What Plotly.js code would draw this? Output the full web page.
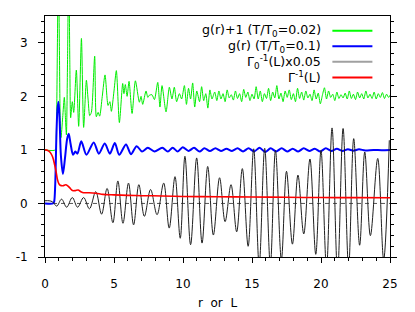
<!DOCTYPE html>
<html><head><meta charset="utf-8">
<script src="https://cdn.plot.ly/plotly-3.0.1.min.js"></script>
<style>html,body{margin:0;padding:0;background:#fff}#c{width:415px;height:312px}</style>
</head><body><div id="c"></div>
<script>
// g(r)+1 at T/T0=0.02 (green)
const greenX = [0,0.75,0.82,0.9,0.97,1.04,1.1,1.16,1.28,1.4,1.48,1.55,1.63,1.72,1.8,1.86,1.98,2.08,2.27,2.44,2.64,2.8,3.0,3.12,3.24,3.36,3.6,3.72,3.85,3.96,4.15,4.35,4.57,4.7,4.81,5.0,5.17,5.39,5.63,5.72,5.82,5.95,6.09,6.31,6.55,6.84,6.96,7.08,7.32,7.45,7.56,7.75,7.93,8.17,8.33,8.48,8.77,9.01,9.2,9.37,9.54,9.74,9.9,
  10.1,10.25,10.4,10.55,10.7,10.85,11.0,11.2,11.35,11.5,11.65,11.8,11.95,12.1,12.3,12.45,12.6,12.75,12.9,13.05,13.2,13.35,13.5,13.65,13.8,13.95,14.1,14.25,14.4,14.55,14.7,14.85,15.0,15.15,15.3,15.45,15.6,15.75,15.9,16.05,16.2,16.35,16.5,16.65,16.8,16.95,17.1,17.25,17.4,17.55,17.7,17.85,18.0,18.15,18.3,18.45,18.6,18.75,18.9,19.05,19.2,19.35,19.5,19.65,19.8,19.95,20.1,20.25,20.4,20.55,20.7,20.85,21.0,21.15,21.3,21.45,21.6,21.75,21.9,22.05,22.2,22.35,22.5,22.65,22.8,22.95,23.1,23.25,23.4,23.55,23.7,23.85,24.0,24.15,24.3,24.45,24.6,24.75,24.9,25.0];
const greenY = [1.0,1.0,1.3,3.0,4.5,3.0,1.6,1.23,1.6,1.98,1.6,1.28,2.6,4.5,2.6,1.6,1.9,1.7,2.49,1.44,3.08,1.42,2.3,1.95,1.64,1.7,2.75,1.62,1.7,1.63,2.0,2.4,1.83,1.9,1.72,2.1,2.48,1.51,2.24,2.05,2.22,2.0,2.28,1.68,2.29,1.89,2.0,1.85,2.1,1.98,2.02,2.03,1.94,2.26,1.8,2.2,1.71,2.17,1.95,2.17,1.9,2.05,1.95,
  2.2,1.85,2.15,1.95,2.25,1.8,2.1,1.9,2.18,1.92,2.05,1.78,2.12,1.95,2.08,1.92,2.1,1.95,2.05,1.9,2.12,1.97,2.03,1.93,2.1,1.96,2.05,1.9,2.13,1.98,2.08,1.92,2.04,1.95,2.18,1.95,2.1,1.9,2.05,1.96,2.15,1.92,2.08,1.97,2.2,1.95,2.06,1.9,2.1,1.98,2.12,1.94,2.05,1.9,2.15,1.96,2.08,1.93,2.1,1.97,2.04,1.92,2.12,1.95,2.06,1.86,2.02,2.16,1.95,2.1,1.98,2.04,1.92,2.08,1.96,2.03,1.97,2.06,1.95,2.1,1.96,2.04,1.94,2.08,1.97,2.05,1.95,2.1,1.97,2.04,1.96,2.08,1.95,2.05,1.98,2.07,1.96,2.04,1.98,2.02];

// g(r) at T/T0=0.1 (blue)
const blueX = [0,0.58,0.66,0.74,0.82,0.9,0.98,1.06,1.15,1.3,1.45,1.6,1.72,1.85,2.03,2.2,2.35,2.63,3.0,3.53,3.9,4.33,4.7,5.06,5.38,5.87,6.23,6.64,7.03,7.45,7.93,8.5,8.9,9.25,9.62,9.98,10.4,10.8,11.2,11.55,11.95,12.35,12.75,13.15,13.55,13.95,14.35,14.75,15.15,15.55,15.95,16.35,16.75,17.15,17.55,17.95,18.35,18.75,19.15,19.55,19.95,20.35,20.75,21.15,21.55,21.95,22.35,22.75,23.2,23.8,24.4,25];
const blueY = [0,0,0.03,0.35,1.2,1.75,1.9,1.55,0.9,0.55,0.85,1.2,1.3,1.12,0.91,0.97,0.93,1.16,0.91,1.14,0.93,1.12,0.93,1.13,0.91,1.1,0.92,1.07,0.97,1.04,0.97,1.04,0.97,1.04,0.97,1.05,0.98,1.04,0.97,1.03,0.98,1.03,0.98,1.02,0.98,1.03,0.97,1.03,0.97,1.04,0.96,1.03,0.97,1.03,0.97,1.02,0.97,1.03,0.98,1.02,0.97,1.03,0.98,1.02,0.98,1.01,0.985,1.01,0.99,1.0,0.995,1.0];

// Gamma_0^-1(L) x 0.05 (black)
const blackX = [0,0.3,0.55,0.85,1.2,1.57,1.98,2.36,2.8,3.22,3.68,4.1,4.5,4.92,5.28,5.65,6.05,6.42,6.8,7.2,7.65,8.12,8.6,9.0,9.42,9.8,10.14,10.55,10.99,11.38,11.79,12.2,12.65,13.05,13.48,13.89,14.3,14.72,15.12,15.52,15.92,16.33,16.7,17.13,17.5,17.93,18.33,18.75,19.2,19.62,20.0,20.4,20.8,21.2,21.6,22.0,22.37,22.8,23.17,23.58,24.11,24.54,24.95];
const blackY = [0.05,0.05,0.03,-0.05,0.08,-0.07,0.11,-0.07,0.11,-0.1,0.22,-0.2,0.28,-0.36,0.42,-0.37,0.38,-0.4,0.35,-0.24,0.26,-0.21,0.38,-0.46,0.5,-0.65,0.88,-0.77,0.85,-0.74,0.69,-0.59,0.48,-0.34,0.35,-0.53,0.65,-0.8,1.02,-1.15,1.03,-1.15,0.99,-1.05,0.6,-0.76,0.53,-0.57,0.83,-0.95,0.99,-1.2,1.41,-1.3,1.4,-1.2,1.21,-0.78,0.96,-0.6,0.84,-1.05,1.18];

// Gamma^-1(L) (red)
const redX = [0,0.2,0.35,0.5,0.6,0.7,0.8,0.9,1.0,1.1,1.3,1.5,1.65,1.8,2.0,2.2,2.4,2.6,2.8,3.2,3.7,4.2,5.0,6.0,7.0,8.5,10,12.5,15,17.5,20,22.5,25];
const redY = [1.0,0.99,0.96,0.9,0.83,0.72,0.6,0.45,0.37,0.34,0.33,0.35,0.33,0.29,0.24,0.24,0.25,0.22,0.2,0.2,0.19,0.17,0.16,0.15,0.145,0.14,0.13,0.125,0.12,0.115,0.11,0.108,0.105];

const yTickVals = [-1,0,1,2,3];
const yTickText = ['-1','0','1','2','3'];
const xTickVals = [0,5,10,15,20,25];
const xTickText = ['0','5','10','15','20','25'];

const legendNames = ['g(r)+1 (T/T<sub>0</sub>=0.02)','g(r) (T/T<sub>0</sub>=0.1)','Γ<sub>0</sub><sup>-1</sup>(L)x0.05','Γ<sup>-1</sup>(L)'];
const legendColors = ['#00ff00','#0000ff','#a0a0a0','#ff0000'];

const FONT = 'DejaVu Sans, sans-serif';

const traces = [
  {x: greenX, y: greenY, mode:'lines', line:{color:'#00ee00', width:1, shape:'spline', smoothing:0.7}, showlegend:false, hoverinfo:'skip'},
  {x: blueX, y: blueY, mode:'lines', line:{color:'#0000ff', width:2, shape:'spline', smoothing:0.8}, showlegend:false, hoverinfo:'skip'},
  {x: blackX, y: blackY, mode:'lines', line:{color:'#202020', width:1, shape:'spline', smoothing:1}, showlegend:false, hoverinfo:'skip'},
  {x: redX, y: redY, mode:'lines', line:{color:'#ff0000', width:1.6, shape:'spline', smoothing:0.8}, showlegend:false, hoverinfo:'skip'}
];

const legY = [0.939, 0.875, 0.81, 0.745];
const annotations = legendNames.map((t,i)=>({
  text: t, xref:'paper', yref:'paper', x:0.805, y:legY[i], xanchor:'right', yanchor:'middle',
  showarrow:false, font:{family:FONT, size:12.6, color:'#000'}
}));
const shapes = legendColors.map((c,i)=>({
  type:'line', xref:'paper', yref:'paper', x0:0.833, x1:0.949, y0:legY[i], y1:legY[i],
  line:{color:c, width:2}
}));
shapes.push({type:'line', xref:'paper', yref:'y', x0:0, x1:1, y0:0, y1:0, layer:'below',
  line:{color:'#555', width:1, dash:'4px,4px'}});

const layout = {
  width:415, height:312,
  margin:{l:45.3, r:24.7, t:16, b:55.3},
  paper_bgcolor:'#fff', plot_bgcolor:'#fff',
  font:{family:FONT, size:12, color:'#000'},
  showlegend:false,
  xaxis:{
    range:[0,25], tickmode:'array', tickvals:xTickVals, ticktext:xTickText,
    ticks:'outside', ticklen:5, tickwidth:1, tickcolor:'#000',
    minor:{tickmode:'linear', tick0:0, dtick:1, ticks:'outside', ticklen:3, tickcolor:'#000', showgrid:false},
    showline:true, linecolor:'#000', linewidth:1, mirror:true,
    showgrid:false, zeroline:false, ticklabelstandoff:11,
    title:{text:'r\u00a0\u00a0or\u00a0\u00a0L', font:{family:FONT, size:12}, standoff:8}
  },
  yaxis:{
    range:[-1,3.5], tickmode:'array', tickvals:yTickVals, ticktext:yTickText,
    ticks:'outside', ticklen:6, tickwidth:1, tickcolor:'#000',
    minor:{tickmode:'linear', tick0:0, dtick:0.2, ticks:'outside', ticklen:3, tickcolor:'#000', showgrid:false},
    showline:true, linecolor:'#000', linewidth:1, mirror:'ticks',
    showgrid:false, zeroline:false, ticklabelstandoff:8
  },
  annotations: annotations,
  shapes: shapes
};
Plotly.newPlot('c', traces, layout, {staticPlot:true, displayModeBar:false});
</script></body></html>
